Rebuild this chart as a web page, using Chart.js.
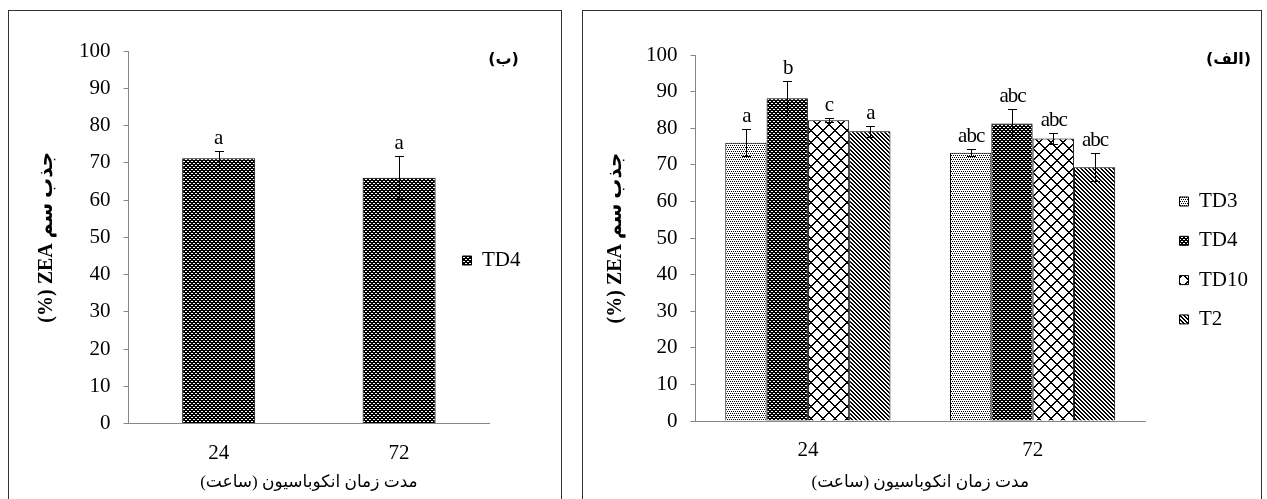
<!DOCTYPE html>
<html><head><meta charset="utf-8">
<script src="https://cdn.jsdelivr.net/npm/chart.js@4.4.1/dist/chart.umd.min.js"></script>
<style>
html,body{margin:0;padding:0;background:#fff;}
body{width:1267px;height:499px;position:relative;overflow:hidden;}
.panel{position:absolute;border:1px solid #333;box-sizing:border-box;background:#fff;}
#pb{left:8px;top:10px;width:554px;height:500px;}
#pa{left:582px;top:10px;width:680px;height:500px;}
.panel canvas{position:absolute;left:0;top:0;}
</style></head><body>
<div class="panel" id="pb"><canvas id="cb" width="552" height="488"></canvas></div>
<div class="panel" id="pa"><canvas id="ca" width="678" height="488"></canvas></div>
<script>
// ---------- data ----------
const categories = ['24', '72'];
const yMin = 0, yMax = 100, yStep = 10;

// panel (ب)
const bTD4 = [71.2, 66.0];
const bTD4Err = [2.0, 5.8];
const bTD4Letters = ['a', 'a'];

// panel (الف)
const seriesNames = ['TD3', 'TD4', 'TD10', 'T2'];
const aTD3 = [76.0, 73.3];
const aTD4 = [88.2, 81.3];
const aTD10 = [82.2, 77.2];
const aT2 = [79.2, 69.3];
const aTD3Err = [3.7, 1.0];
const aTD4Err = [4.8, 3.9];
const aTD10Err = [0.6, 1.4];
const aT2Err = [1.5, 3.8];
const aTD3Letters = ['a', 'abc'];
const aTD4Letters = ['b', 'abc'];
const aTD10Letters = ['c', 'abc'];
const aT2Letters = ['a', 'abc'];

const yTitleText = 'جذب سم ZEA (%)';
const xTitleText = 'مدت زمان انکوباسیون (ساعت)';
const panelLabelB = '(ب)';
const panelLabelA = '(الف)';

// ---------- styling helpers ----------
const RLE = '\u202B', PDF = '\u202C';
const SERIF = '"Liberation Serif", "DejaVu Serif", "DejaVu Sans"';
const AXIS = '#868686';

function makePattern(ctx, kind) {
  const c = document.createElement('canvas');
  let g;
  const px = (x, y) => g.fillRect(x, y, 1, 1);
  if (kind === 'TD4') {
    c.width = 4; c.height = 4; g = c.getContext('2d');
    g.fillStyle = '#000'; g.fillRect(0, 0, 4, 4);
    g.fillStyle = '#fff'; g.fillRect(0, 0, 2, 1); g.fillRect(2, 2, 2, 1);
  } else if (kind === 'TD3') {
    c.width = 4; c.height = 4; g = c.getContext('2d');
    g.fillStyle = '#fff'; g.fillRect(0, 0, 4, 4);
    g.fillStyle = '#000'; px(0, 0); px(2, 0); px(1, 2); px(3, 2);
  } else if (kind === 'TD10') {
    const n = 12;
    c.width = n; c.height = n; g = c.getContext('2d');
    g.fillStyle = '#fff'; g.fillRect(0, 0, n, n);
    g.fillStyle = '#000';
    for (let i = 0; i < n; i++) { px(i, i); px((i + 1) % n, i); px(n - 1 - i, i); px((2 * n - 2 - i) % n, i); }
  } else {
    const n = 4;
    c.width = n; c.height = n; g = c.getContext('2d');
    g.fillStyle = '#fff'; g.fillRect(0, 0, n, n);
    g.fillStyle = '#000';
    for (let i = 0; i < n; i++) { px(i % n, i); px((i + 1) % n, i); }
  }
  return ctx.createPattern(c, 'repeat');
}

const extras = {
  id: 'extras',
  afterLayout(chart, args, o) {
    const lg = chart.legend;
    if (!lg || !lg.columnSizes || !lg.columnSizes.length) return;
    const pad = lg.options.labels.padding;
    const colH = lg.columnSizes[0].height;
    const w = lg.width;
    lg.left = o.legendX; lg.right = o.legendX + w;
    lg.top = o.legendY - pad; lg.bottom = o.legendY + colH + 1;
    lg.height = lg.bottom - lg.top;
  },
  afterDatasetsDraw(chart, args, o) {
    const ctx = chart.ctx, ys = chart.scales.y;
    chart.data.datasets.forEach((ds, i) => {
      const meta = chart.getDatasetMeta(i);
      meta.data.forEach((bar, j) => {
        const v = ds.data[j], e = ds.errors[j];
        const yt = Math.round(ys.getPixelForValue(v + e)) + 0.5;
        const yb = Math.round(ys.getPixelForValue(v - e)) + 0.5;
        const x = Math.round(bar.x) + 0.5;
        ctx.save();
        ctx.strokeStyle = '#000'; ctx.lineWidth = 1;
        ctx.beginPath();
        ctx.moveTo(x, yt); ctx.lineTo(x, yb);
        ctx.moveTo(x - o.cap, yt); ctx.lineTo(x + o.cap, yt);
        ctx.moveTo(x - o.cap, yb); ctx.lineTo(x + o.cap, yb);
        ctx.stroke();
        ctx.font = '21px ' + SERIF;
        ctx.fillStyle = '#000'; ctx.textAlign = 'center'; ctx.textBaseline = 'alphabetic';
        if ('letterSpacing' in ctx) ctx.letterSpacing = o.spacing + 'px';
        ctx.fillText(ds.letters[j], bar.x - o.spacing / 2, yt - o.gap);
        ctx.restore();
      });
    });
  },
  afterDraw(chart, args, o) {
    const ctx = chart.ctx;
    ctx.save();
    ctx.font = 'bold 16px "DejaVu Sans", "Liberation Sans"';
    ctx.fillStyle = '#000'; ctx.textAlign = 'center'; ctx.textBaseline = 'middle';
    ctx.fillText(RLE + o.label + PDF, o.labelX, o.labelY);
    ctx.restore();
  }
};

function yScale(titlePad, width) {
  return {
    min: yMin, max: yMax,
    ticks: { stepSize: yStep, color: '#000', font: { family: SERIF, size: 21 }, padding: 13 },
    grid: { drawOnChartArea: false, drawTicks: true, tickLength: 5, color: AXIS },
    border: { display: true, color: AXIS, width: 1 },
    title: { display: true, text: RLE + yTitleText + PDF, color: '#000',
      font: { family: SERIF, size: 20, weight: 'bold' }, padding: { top: titlePad, bottom: 0 } },
    afterFit(s) { s.width = width; }
  };
}
function xScale(height) {
  return {
    ticks: { color: '#000', font: { family: SERIF, size: 21 }, padding: 17 },
    grid: { display: false, drawTicks: false },
    border: { display: true, color: AXIS, width: 1 },
    title: { display: true, text: RLE + xTitleText + PDF, color: '#000',
      font: { family: SERIF, size: 17 }, padding: { top: 0, bottom: 6 } },
    afterFit(s) { s.height = height; }
  };
}
function legendOpts(pad) {
  return {
    position: 'chartArea', align: 'center',
    labels: { color: '#000', font: { family: SERIF, size: 21 }, boxWidth: 9, boxHeight: 9, padding: pad }
  };
}

// ---------- chart (ب) ----------
const ctxB = document.getElementById('cb').getContext('2d');
new Chart(ctxB, {
  type: 'bar',
  data: {
    labels: categories,
    datasets: [{
      label: 'TD4', data: bTD4, errors: bTD4Err, letters: bTD4Letters,
      backgroundColor: makePattern(ctxB, 'TD4'), borderColor: '#000', borderWidth: 1,
      barPercentage: 0.405, categoryPercentage: 1
    }]
  },
  options: {
    responsive: false, animation: false, devicePixelRatio: 1,
    layout: { padding: { left: 0, top: 40, right: 71.7, bottom: 0 } },
    scales: { x: xScale(75.5), y: yScale(26, 119.5) },
    plugins: {
      legend: legendOpts(10),
      tooltip: { enabled: false },
      extras: { legendX: 443.5, legendY: 238.5, cap: 4.5, gap: 7.5, spacing: 0,
        label: panelLabelB, labelX: 494.5, labelY: 49 }
    }
  },
  plugins: [extras]
});

// ---------- chart (الف) ----------
const ctxA = document.getElementById('ca').getContext('2d');
const aValues = [aTD3, aTD4, aTD10, aT2];
const aErrors = [aTD3Err, aTD4Err, aTD10Err, aT2Err];
const aLetters = [aTD3Letters, aTD4Letters, aTD10Letters, aT2Letters];
new Chart(ctxA, {
  type: 'bar',
  data: {
    labels: categories,
    datasets: seriesNames.map((name, i) => ({
      label: name, data: aValues[i], errors: aErrors[i], letters: aLetters[i],
      backgroundColor: makePattern(ctxA, name), borderColor: '#000', borderWidth: 1,
      barPercentage: 1, categoryPercentage: 0.735
    }))
  },
  options: {
    responsive: false, animation: false, devicePixelRatio: 1,
    layout: { padding: { left: 0, top: 44, right: 116, bottom: 0 } },
    scales: { x: xScale(78), y: yScale(21, 112.5) },
    plugins: {
      legend: legendOpts(18.3),
      tooltip: { enabled: false },
      extras: { legendX: 578.2, legendY: 179.5, cap: 4.5, gap: 7.5, spacing: -1,
        label: panelLabelA, labelX: 645.5, labelY: 49 }
    }
  },
  plugins: [extras]
});
</script>
</body></html>
